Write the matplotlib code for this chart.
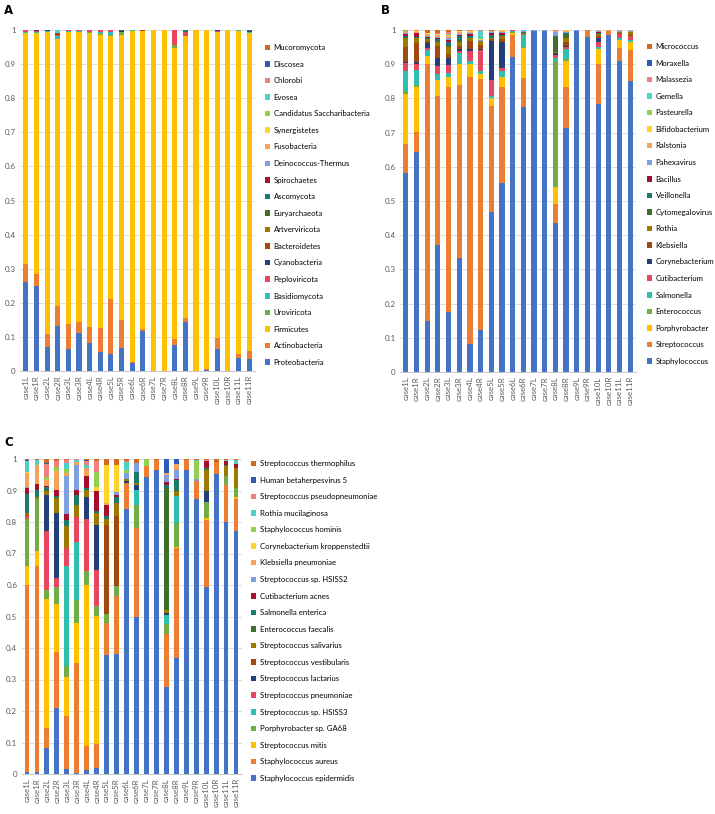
import numpy as np
import matplotlib
matplotlib.use("Agg")
import matplotlib.pyplot as plt
from matplotlib.ticker import FuncFormatter

plt.rcParams['font.family'] = ['Lato', 'DejaVu Sans']

cases = ["case1L", "case1R", "case2L", "case2R", "case3L", "case3R", "case4L", "case4R",
         "case5L", "case5R", "case6L", "case6R", "case7L", "case7R", "case8L", "case8R",
         "case9L", "case9R", "case10L", "case10R", "case11L", "case11R"]

# one colour per stack position, shared by the three panels
colors = ["#4472C4", "#ED7D31", "#FFC000", "#70AD47", "#2EBFB0", "#E8465F", "#223F7A",
          "#A0480F", "#9C7A00", "#3F6E2A", "#1A7A6B", "#A50F2D", "#7FA0E0", "#F5A25D",
          "#FFD22E", "#92D050", "#4FD1C5", "#F08080", "#2E5BB5", "#D26A1E"]

# stack order, bottom to top
a_taxa = ["Proteobacteria", "Actinobacteria", "Firmicutes", "Uroviricota", "Basidiomycota",
          "Peploviricota", "Cyanobacteria", "Bacteroidetes", "Artverviricota", "Euryarchaeota",
          "Ascomycota", "Spirochaetes", "Deinococcus-Thermus", "Fusobacteria", "Synergistetes",
          "Candidatus Saccharibacteria", "Evosea", "Chlorobi", "Discosea", "Mucoromycota"]

# one row per case, columns follow a_taxa
a_values = [
    [.260, .055, .675, .002, .003, .004, .001, 0, 0, 0, 0, 0, 0, 0, 0, 0, 0, 0, 0, 0],
    [.250, .035, .705, 0, .005, .002, .002, .001, 0, 0, 0, 0, 0, 0, 0, 0, 0, 0, 0, 0],
    [.070, .038, .887, 0, .002, .001, .002, 0, 0, 0, 0, 0, 0, 0, 0, 0, 0, 0, 0, 0],
    [.133, .057, .785, 0, .006, .003, 0, .006, 0, 0, 0, 0, 0, 0, 0, 0, .010, 0, 0, 0],
    [.065, .072, .858, 0, .002, .002, .001, 0, 0, 0, 0, 0, 0, 0, 0, 0, 0, 0, 0, 0],
    [.111, .032, .852, 0, .003, .002, 0, 0, 0, 0, 0, 0, 0, 0, 0, 0, 0, 0, 0, 0],
    [.083, .045, .862, .003, 0, .007, 0, 0, 0, 0, 0, 0, 0, 0, 0, 0, 0, 0, 0, 0],
    [.055, .072, .858, .006, .002, .007, 0, 0, 0, 0, 0, 0, 0, 0, 0, 0, 0, 0, 0, 0],
    [.050, .160, .772, .004, .008, .006, 0, 0, 0, 0, 0, 0, 0, 0, 0, 0, 0, 0, 0, 0],
    [.068, .082, .835, .008, 0, 0, .003, 0, 0, .004, 0, 0, 0, 0, 0, 0, 0, 0, 0, 0],
    [.023, .004, .971, 0, .002, 0, 0, 0, 0, 0, 0, 0, 0, 0, 0, 0, 0, 0, 0, 0],
    [.118, .005, .875, 0, 0, 0, 0, .002, 0, 0, 0, 0, 0, 0, 0, 0, 0, 0, 0, 0],
    [0, 0, 1.0, 0, 0, 0, 0, 0, 0, 0, 0, 0, 0, 0, 0, 0, 0, 0, 0, 0],
    [0, 0, 1.0, 0, 0, 0, 0, 0, 0, 0, 0, 0, 0, 0, 0, 0, 0, 0, 0, 0],
    [.075, .020, .851, .010, 0, .044, 0, 0, 0, 0, 0, 0, 0, 0, 0, 0, 0, 0, 0, 0],
    [.145, .010, .827, 0, 0, .013, 0, 0, 0, 0, .005, 0, 0, 0, 0, 0, 0, 0, 0, 0],
    [0, 0, 1.0, 0, 0, 0, 0, 0, 0, 0, 0, 0, 0, 0, 0, 0, 0, 0, 0, 0],
    [.003, .003, .994, 0, 0, 0, 0, 0, 0, 0, 0, 0, 0, 0, 0, 0, 0, 0, 0, 0],
    [.065, .032, .896, 0, 0, .004, .003, 0, 0, 0, 0, 0, 0, 0, 0, 0, 0, 0, 0, 0],
    [.001, 0, .999, 0, 0, 0, 0, 0, 0, 0, 0, 0, 0, 0, 0, 0, 0, 0, 0, 0],
    [.037, .013, .948, 0, .002, 0, 0, 0, 0, 0, 0, 0, 0, 0, 0, 0, 0, 0, 0, 0],
    [.036, .024, .930, 0, .003, 0, .003, 0, 0, 0, .004, 0, 0, 0, 0, 0, 0, 0, 0, 0],
]

b_taxa = ["Staphylococcus", "Streptococcus", "Porphyrobacter", "Enterococcus", "Salmonella",
          "Cutibacterium", "Corynebacterium", "Klebsiella", "Rothia", "Cytomegalovirus",
          "Veillonella", "Bacillus", "Pahexavirus", "Ralstonia", "Bifidobacterium",
          "Pasteurella", "Gemella", "Malassezia", "Moraxella", "Micrococcus"]

b_values = [
    [.583, .085, .146, .009, .057, .023, .004, .043, .026, .004, .003, .004, .003, .003, .002, .002, 0, .002, .001, 0],
    [.643, .058, .132, .007, .042, .019, .004, .058, .013, 0, .004, .010, .002, .003, .002, .001, 0, .001, .001, 0],
    [.148, .752, .024, 0, .018, .005, .014, .006, .006, 0, .003, .003, .004, .004, .003, 0, 0, 0, 0, .010],
    [.371, .435, .048, 0, .018, .023, .024, .035, .012, .003, .004, .004, .003, .004, .003, 0, 0, .003, 0, .010],
    [.174, .659, .029, 0, .012, .023, .022, .010, .020, .005, .010, .008, .006, .004, .003, 0, .004, .005, 0, .006],
    [.332, .508, .060, 0, .034, .006, .004, .010, .012, .005, .012, .003, .003, .004, .003, 0, 0, .002, 0, .002],
    [.082, .780, .039, 0, .009, .030, .004, .024, .008, 0, .005, .006, .005, .003, .002, 0, 0, .002, 0, .001],
    [.124, .733, .015, 0, .007, .063, .003, .010, .012, 0, 0, 0, .003, 0, .003, 0, .025, .002, 0, 0],
    [.469, .308, .024, 0, .005, .048, .114, .005, .005, 0, .008, .004, .004, .002, .002, 0, 0, 0, 0, .002],
    [.553, .280, .031, 0, .017, .009, .074, .010, .009, 0, .003, .004, .004, .003, .002, 0, 0, 0, 0, .001],
    [.920, .064, .008, .003, .002, .002, 0, 0, 0, 0, 0, 0, .001, 0, 0, 0, 0, 0, 0, 0],
    [.774, .085, .088, .004, .034, .003, 0, 0, .004, 0, .003, 0, .002, 0, 0, 0, .003, 0, 0, 0],
    [.997, 0, 0, 0, 0, 0, 0, 0, 0, 0, 0, 0, .003, 0, 0, 0, 0, 0, 0, 0],
    [.997, 0, 0, 0, 0, 0, 0, 0, 0, 0, 0, 0, .003, 0, 0, 0, 0, 0, 0, 0],
    [.436, .056, .049, .367, .010, .010, .005, 0, .003, .044, .003, 0, .012, .003, 0, 0, 0, .002, 0, 0],
    [.713, .120, .077, .005, .030, .006, .003, .012, .012, .010, .004, 0, .003, .002, .002, 0, 0, .001, 0, 0],
    [.997, 0, 0, 0, 0, 0, 0, 0, 0, 0, 0, 0, .003, 0, 0, 0, 0, 0, 0, 0],
    [.979, .021, 0, 0, 0, 0, 0, 0, 0, 0, 0, 0, 0, 0, 0, 0, 0, 0, 0, 0],
    [.784, .116, .045, 0, .006, .015, .010, .006, .006, 0, .004, .003, .003, .002, 0, 0, 0, 0, 0, 0],
    [.986, .010, 0, 0, 0, 0, 0, .002, 0, 0, 0, 0, 0, .002, 0, 0, 0, 0, 0, 0],
    [.910, .037, .024, 0, .006, .010, .002, .003, .003, 0, 0, 0, .003, .002, 0, 0, 0, 0, 0, 0],
    [.850, .092, .023, 0, .006, .010, .002, .003, .008, 0, 0, 0, .003, .003, 0, 0, 0, 0, 0, 0],
]

c_taxa = ["Staphylococcus epidermidis", "Staphylococcus aureus", "Streptococcus mitis",
          "Porphyrobacter sp. GA68", "Streptococcus sp. HSISS3", "Streptococcus pneumoniae",
          "Streptococcus lactarius", "Streptococcus vestibularis", "Streptococcus salivarius",
          "Enterococcus faecalis", "Salmonella enterica", "Cutibacterium acnes",
          "Streptococcus sp. HSISS2", "Klebsiella pneumoniae", "Corynebacterium kroppenstedtii",
          "Staphylococcus hominis", "Rothia mucilaginosa", "Streptococcus pseudopneumoniae",
          "Human betaherpesvirus 5", "Streptococcus thermophilus"]

c_values = [
    [.006, .594, .059, .151, 0, .008, 0, .004, .005, 0, .062, .019, .003, .044, .004, 0, .034, 0, .004, .003],
    [.005, .654, .050, .165, 0, 0, 0, 0, .006, 0, .023, .018, 0, .059, 0, 0, .018, 0, 0, .002],
    [.083, .063, .409, .028, 0, .187, .117, 0, .010, .005, .008, .004, 0, .020, 0, .010, 0, .040, .003, .013],
    [.210, .177, .153, .055, 0, .027, .206, 0, .048, 0, .006, .020, 0, .060, 0, .012, 0, .020, 0, .006],
    [.015, .168, .126, .034, .316, .058, 0, 0, .069, 0, .021, .018, .120, .010, 0, .012, .021, .010, 0, .002],
    [.003, .350, .127, .073, .185, .078, 0, 0, .039, 0, .032, .016, .079, .008, 0, 0, .008, .002, 0, 0],
    [.012, .078, .510, .043, 0, .167, .069, 0, .022, 0, .007, .037, 0, .026, 0, 0, .010, .012, .005, .002],
    [.018, .078, .406, .030, 0, .115, .143, 0, .040, 0, .006, .064, 0, 0, .010, .050, 0, .035, 0, .005],
    [.378, .100, 0, .029, 0, 0, 0, .283, .020, 0, .008, .037, 0, .005, .120, 0, 0, 0, 0, .020],
    [.380, .186, 0, .031, 0, 0, 0, .221, .042, 0, .018, .008, .010, 0, .086, 0, 0, 0, 0, .018],
    [.841, .083, 0, 0, 0, 0, .005, 0, .006, 0, 0, 0, .019, 0, 0, .012, .024, .005, 0, .005],
    [.500, .280, 0, .075, .048, 0, .015, 0, .006, 0, .036, 0, .027, 0, 0, 0, 0, 0, 0, .013],
    [.942, .035, 0, 0, 0, 0, 0, 0, 0, 0, 0, 0, 0, 0, 0, .023, 0, 0, 0, 0],
    [.964, .032, 0, 0, 0, 0, 0, 0, 0, 0, 0, 0, 0, 0, 0, 0, 0, 0, 0, .004],
    [.277, .167, 0, .032, .030, 0, .004, 0, .012, .386, .008, .010, .022, .007, 0, 0, 0, 0, .045, 0],
    [.367, .350, .003, .077, .084, 0, 0, 0, .016, 0, .035, .004, .030, .019, 0, 0, 0, 0, .015, 0],
    [.966, .032, 0, 0, 0, 0, 0, 0, 0, 0, 0, 0, 0, 0, 0, 0, 0, 0, 0, .002],
    [.874, .057, 0, 0, 0, 0, 0, 0, 0, 0, 0, 0, .004, 0, 0, .058, .005, 0, 0, .002],
    [.593, .214, .005, .050, 0, 0, .035, 0, .069, 0, .006, .021, 0, 0, 0, 0, 0, .004, 0, .003],
    [.952, .037, 0, 0, 0, 0, 0, 0, .006, 0, 0, 0, 0, 0, 0, 0, 0, 0, 0, .005],
    [.800, .116, 0, .030, 0, 0, 0, 0, .031, 0, .005, .011, 0, 0, 0, 0, .004, 0, 0, .003],
    [.770, .104, .005, .029, 0, 0, 0, 0, .063, 0, 0, .013, 0, 0, 0, 0, .012, 0, 0, .004],
]

W, H = 715, 814
fig = plt.figure(figsize=(W / 100, H / 100), dpi=100)


def px_axes(x0, x1, ytop, ybot):
    return fig.add_axes([x0 / W, 1 - ybot / H, (x1 - x0) / W, (ybot - ytop) / H])


def stacked(ax, taxa, values, leg_xy):
    data = np.array(values).T
    x = np.arange(len(cases))
    bottom = np.zeros(len(cases))
    handles = []
    for name, row, col in zip(taxa, data, colors):
        h = ax.bar(x, row, bottom=bottom, width=0.48, color=col, label=name, zorder=2)
        handles.append(h)
        bottom += row
    ax.set_xlim(-0.55, len(cases) - 0.45)
    ax.set_ylim(0, 1)
    ax.set_yticks(np.arange(0, 1.01, 0.1))
    ax.yaxis.set_major_formatter(FuncFormatter(lambda v, p: f"{v:.1f}".rstrip("0").rstrip(".") if v else "0"))
    ax.grid(axis="y", color="#D9D9D9", linewidth=0.6, zorder=0)
    ax.set_xticks(x)
    ax.set_xticklabels(cases, rotation=90)
    ax.tick_params(axis="both", length=0, labelsize=5.7, labelcolor="#595959", pad=3)
    for s in ["top", "right", "left"]:
        ax.spines[s].set_visible(False)
    ax.spines["bottom"].set_color("#BFBFBF")
    ax.spines["bottom"].set_linewidth(0.6)
    fig.legend(handles[::-1], taxa[::-1], loc="upper left",
               bbox_to_anchor=(leg_xy[0] / W, 1 - leg_xy[1] / H), frameon=False,
               fontsize=5.6, handlelength=0.7, handleheight=0.7, handletextpad=0.4,
               labelspacing=1.23, borderaxespad=0, borderpad=0)


ax_a = px_axes(20, 255, 30, 371)
stacked(ax_a, a_taxa, a_values, (265, 44))
ax_b = px_axes(400, 636, 30, 372)
stacked(ax_b, b_taxa, b_values, (647, 43))
ax_c = px_axes(21.5, 241.5, 459, 774)
stacked(ax_c, c_taxa, c_values, (251, 460))

fig.text(4 / W, 1 - 4 / H, "A", fontsize=8.5, fontweight="bold", va="top", family="DejaVu Sans")
fig.text(381 / W, 1 - 4 / H, "B", fontsize=8.5, fontweight="bold", va="top", family="DejaVu Sans")
fig.text(4 / W, 1 - 436 / H, "C", fontsize=8.5, fontweight="bold", va="top", family="DejaVu Sans")

fig.savefig("out.png", dpi=100)
